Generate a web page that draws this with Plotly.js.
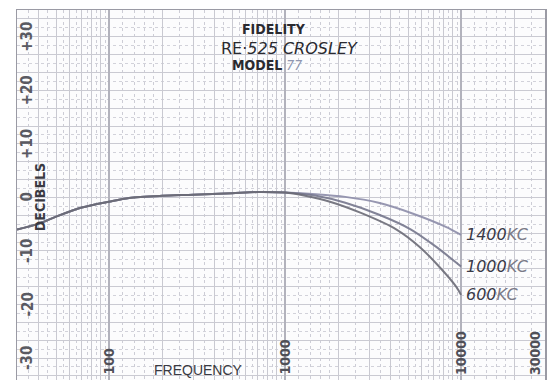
<!DOCTYPE html>
<html>
<head>
<meta charset="utf-8">
<script src="https://cdn.plot.ly/plotly-3.0.1.min.js"></script>
<style>
  html, body { margin: 0; padding: 0; background: #ffffff; }
  #chart { width: 557px; height: 380px; }
</style>
</head>
<body>
<div id="chart"></div>
<script>
// ---- data (Hz, dB) ----
const freqLow = [30, 40, 50, 70, 100, 130, 200, 300, 500, 700, 1000];
const dbLow   = [-6.0, -4.9, -3.6, -1.9, -0.8, -0.1, 0.3, 0.5, 0.8, 1.0, 0.9];

const freq1400 = [1500, 2200, 3400, 5200, 8200, 10000];
const db1400   = [0.6, 0.1, -1.0, -2.9, -5.5, -7.0];

const freq1000 = [1500, 2200, 3400, 5200, 7200, 10000];
const db1000   = [0.3, -1.0, -3.2, -6.0, -9.2, -12.9];

const freq600 = [1300, 1800, 2700, 4300, 5800, 7500, 9400, 10000];
const db600   = [0.3, -0.8, -2.9, -6.0, -9.2, -12.9, -16.7, -18.2];

const seriesNames  = ['1400', '1000', '600'];
const seriesUnit   = 'KC';

const xTickVals = [100, 1000, 10000, 30000];
const xTickText = ['100', '1000', '10000', '30000'];
const yTickVals = [30, 20, 10, 0, -10, -20, -30];
const yTickText = ['+30', '+20', '+10', '0', '-10', '-20', '-30'];

const titleLines = ['<b>FIDELITY</b>', 'RE·<i>525 CROSLEY</i>', '<b>MODEL</b> <i><span style="color:#9096b0">77</span></i>'];
const xTitle = 'FREQUENCY';
const yTitle = 'DECIBELS';

// ---- graph-paper grid values (log decades, 1..9 and subdivisions) ----
const majorX = [], minorX = [], decadeX = [];
for (let e = 1; e <= 4; e++) {
  const d = Math.pow(10, e);
  decadeX.push(d);
  for (let n = 1; n <= 9; n++) majorX.push(n * d);
  [1.2, 1.4, 1.6, 1.8, 2.5, 3.5, 4.5, 5.5, 6.5, 7.5, 8.5, 9.5].forEach(m => minorX.push(m * d));
}

const colors = ['#8c8ca8', '#74768c', '#6a6a76'];
const highF = [freq1400, freq1000, freq600];
const highD = [db1400, db1000, db600];

const traces = seriesNames.map((name, i) => ({
  type: 'scatter',
  mode: 'lines',
  name: name + seriesUnit,
  x: freqLow.concat(highF[i]),
  y: dbLow.concat(highD[i]),
  line: { color: colors[i], width: 2, shape: 'spline', smoothing: 0.8 },
  opacity: 0.9,
  hoverinfo: 'skip'
}));

const labelFont = { family: 'DejaVu Sans Condensed, DejaVu Sans, sans-serif', size: 14, color: '#4a4a52' };

const annotations = [];
// y tick labels (rotated, inside plot at left)
yTickVals.forEach((v, i) => annotations.push({
  xref: 'paper', yref: 'y', x: 0.019, y: v, text: '<b>' + yTickText[i] + '</b>',
  textangle: -90, showarrow: false, xanchor: 'center', yanchor: 'middle',
  font: { ...labelFont, size: 15, color: '#5a5a62' }
}));
// x tick labels (rotated, at bottom)
xTickVals.forEach((v, i) => annotations.push({
  xref: 'x', yref: 'paper', x: Math.log10(v), y: 0.008, text: '<b>' + xTickText[i] + '</b>',
  textangle: -90, showarrow: false,
  xanchor: i === xTickVals.length - 1 ? 'right' : 'center', yanchor: 'bottom',
  font: { ...labelFont, color: '#505058' }
}));
// title block
const titleY = [0.949, 0.897, 0.851];
const titleX = [0.487, 0.517, 0.473];
const titleSize = [14, 16, 14];
const titleFam = ['DejaVu Sans Condensed, DejaVu Sans, sans-serif', 'DejaVu Sans, sans-serif', 'DejaVu Sans Condensed, DejaVu Sans, sans-serif'];
titleLines.forEach((t, i) => annotations.push({
  xref: 'paper', yref: 'paper', x: titleX[i], y: titleY[i], text: t,
  showarrow: false, xanchor: 'center', yanchor: 'middle',
  font: { family: titleFam[i], size: titleSize[i], color: '#2a2a30' }
}));
// axis titles
annotations.push({
  xref: 'paper', yref: 'y', x: 0.045, y: 0, text: '<b>' + yTitle + '</b>', textangle: -90,
  showarrow: false, xanchor: 'center', yanchor: 'middle',
  font: { family: 'DejaVu Sans Condensed, DejaVu Sans, sans-serif', size: 14, color: '#3a3a42' }
});
annotations.push({
  xref: 'paper', yref: 'paper', x: 0.343, y: 0.027, text: xTitle,
  showarrow: false, xanchor: 'center', yanchor: 'middle',
  font: { family: 'Liberation Sans, Arial, sans-serif', size: 14, color: '#3a3a42' }
});
// curve labels at the end of each curve
seriesNames.forEach((name, i) => {
  const xs = highF[i], ys = highD[i];
  annotations.push({
    xref: 'x', yref: 'y', x: Math.log10(xs[xs.length - 1]), y: ys[ys.length - 1],
    text: '<i>' + name + '<span style="color:#7a7a88">' + seriesUnit + '</span></i>',
    showarrow: false, xanchor: 'left', yanchor: 'middle', xshift: 3,
    font: { family: 'DejaVu Sans, sans-serif', size: 16, color: '#3a3a48' }
  });
});

const layout = {
  width: 557, height: 380,
  margin: { l: 17, r: 12, t: 10, b: 0, pad: 0 },
  paper_bgcolor: '#ffffff',
  plot_bgcolor: '#fcfcfd',
  showlegend: false,
  xaxis: {
    type: 'log', range: [Math.log10(30), Math.log10(30000)],
    tickmode: 'array', tickvals: majorX, showticklabels: false, ticks: '',
    showgrid: true, gridcolor: '#c9c9d1', gridwidth: 1,
    minor: { tickmode: 'array', tickvals: minorX, showgrid: true, gridcolor: '#cdcdd6', griddash: 'dot', gridwidth: 1, ticks: '' },
    showline: true, mirror: true, linecolor: '#9a9aa4', linewidth: 1.5,
    zeroline: false, fixedrange: true
  },
  xaxis2: {
    type: 'log', range: [Math.log10(30), Math.log10(30000)], overlaying: 'x',
    tickmode: 'array', tickvals: decadeX, showticklabels: false, ticks: '',
    showgrid: true, gridcolor: '#b2b2bc', gridwidth: 1.2, zeroline: false
  },
  yaxis: {
    range: [-34.1, 35],
    tick0: 0, dtick: 10 / 3, showticklabels: false, ticks: '',
    showgrid: true, gridcolor: '#cacad2', gridwidth: 1,
    minor: { dtick: 10 / 6, showgrid: true, gridcolor: '#d2d2da', griddash: 'dot', gridwidth: 1, ticks: '' },
    showline: true, mirror: true, linecolor: '#9a9aa4', linewidth: 1.5,
    zeroline: false, fixedrange: true
  },
  annotations: annotations
};

// an invisible trace so xaxis2 draws its decade grid
traces.unshift({ type: 'scatter', x: [100], y: [0], xaxis: 'x2', mode: 'markers', marker: { opacity: 0 }, hoverinfo: 'skip' });

Plotly.newPlot('chart', traces, layout, { staticPlot: true, displayModeBar: false });
</script>
</body>
</html>
